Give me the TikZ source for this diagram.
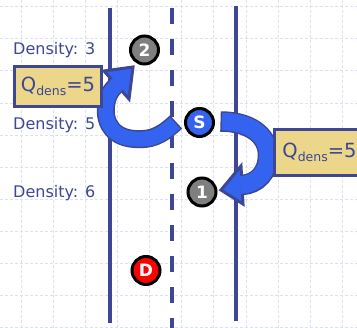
\documentclass[tikz,border=0pt]{standalone}
\usepackage{fontspec}
\setmainfont{DejaVu Sans}
\usepackage{tikz}
\usetikzlibrary{calc}
\definecolor{spur}{HTML}{3D4795}
\definecolor{raster}{HTML}{DCE0F4}
\definecolor{pfeil}{HTML}{3463F0}
\definecolor{kasten}{HTML}{EBD68A}
\definecolor{grau}{HTML}{7F7F7F}
\definecolor{rot}{HTML}{FF0000}
\newcommand{\qdens}{Q\raisebox{-0.35ex}{\fontsize{12.5}{12.5}\selectfont dens}=5}

\begin{document}
\begin{tikzpicture}[
        x=1pt, y=-1pt,
        every node/.style={font=\fontsize{16}{18}\selectfont, text=spur},
        rasterlinie/.style={raster, line width=1pt, dash pattern=on 3pt off 2pt},
        punkt/.style={circle, draw=black, line width=3pt, minimum size=28pt,
                      inner sep=0pt, text=white, font=\fontsize{17}{17}\selectfont\bfseries},
        dichte/.style={anchor=base west, inner sep=0pt},
        qkasten/.style={draw=spur, line width=3pt, fill=kasten, inner sep=0pt,
                        font=\fontsize{19.5}{21}\selectfont},
      ]
      \clip (0,0) rectangle (357,328);
      \fill[white] (0,0) rectangle (357,328);

      % Raster (blass)
      \foreach \gx in {0,...,10}
        \draw[rasterlinie] (21.3+32.1*\gx, 0) -- (21.3+32.1*\gx, 328);
      \foreach \gy in {0,...,10}
        \draw[rasterlinie] (0, 6.8+32.1*\gy) -- (357, 6.8+32.1*\gy);

      % Spuren
      \draw[spur, line width=3.5pt] (110, 8) -- (110, 323);
      \draw[spur, line width=4.5pt, dash pattern=on 16pt off 15pt] (172, 8) -- (172, 330);
      \draw[spur, line width=3.5pt] (236, 6) -- (236, 321);

      % Fahrzeuge
      \node[punkt, fill=grau] (n2) at (144.5, 50) {2};
      \node[punkt, fill=pfeil] (s) at (199.5, 122.5) {S};
      \node[punkt, fill=grau] (n1) at (202, 192) {1};
      \node[punkt, fill=rot] (d) at (146, 270.5) {D};

      % Dichten
      \node[dichte] (dichte3) at (13, 55) {Density: 3};
      \node[dichte] (dichte5) at (13, 130) {Density: 5};
      \node[dichte] (dichte6) at (13, 198) {Density: 6};

      % Pfeil S -> 2
      \coordinate (lstart) at ($(s)+(-24.5, 0.5)$);
      \coordinate (lspitze) at ($(n2)+(-11.5, 17)$);
      \coordinate (lbasis) at ($(lspitze)+(-16.5, 18)$);
      \draw[spur, line width=18pt, shorten <=-1.5pt]
        (lstart) .. controls (160, 137) and (150, 140) .. (135, 139)
                 .. controls (115, 138) and (104, 125) .. (106, 106)
                 .. controls (107, 97) and (110, 91) .. (lbasis);
      \filldraw[draw=spur, fill=pfeil, line width=3pt, line join=miter]
        (lspitze) -- ($(lbasis)+(-12.5, -14)$) -- ($(lbasis)+(12.5, 14)$) -- cycle;
      \draw[pfeil, line width=15pt, shorten >=-2pt]
        (lstart) .. controls (160, 137) and (150, 140) .. (135, 139)
                 .. controls (115, 138) and (104, 125) .. (106, 106)
                 .. controls (107, 97) and (110, 91) .. (lbasis);

      % Pfeil S -> 1
      \coordinate (rstart) at ($(s)+(22.5, -1)$);
      \coordinate (rspitze) at ($(n1)+(19, -2)$);
      \coordinate (rbasis) at ($(rspitze)+(21, -5)$);
      \draw[spur, line width=20.5pt, shorten <=-1.5pt]
        (rstart) .. controls (248, 121.5) and (268, 134) .. (268, 155)
                 .. controls (268, 173) and (257, 184) .. (rbasis);
      \filldraw[draw=spur, fill=pfeil, line width=3pt, line join=miter]
        (rspitze) -- ($(rbasis)+(-1, -19)$) -- ($(rbasis)+(1, 19)$) -- cycle;
      \draw[pfeil, line width=17.5pt, shorten >=-2pt]
        (rstart) .. controls (248, 121.5) and (268, 134) .. (268, 155)
                 .. controls (268, 173) and (257, 184) .. (rbasis);

      % Schwellen
      \node[qkasten, minimum width=87pt, minimum height=40pt] (qlinks) at (58, 86.5) {\qdens};
      \node[qkasten, minimum width=90pt, minimum height=46pt] (qrechts) at (319.5, 152.5) {\qdens};
    \end{tikzpicture}
\end{document}
